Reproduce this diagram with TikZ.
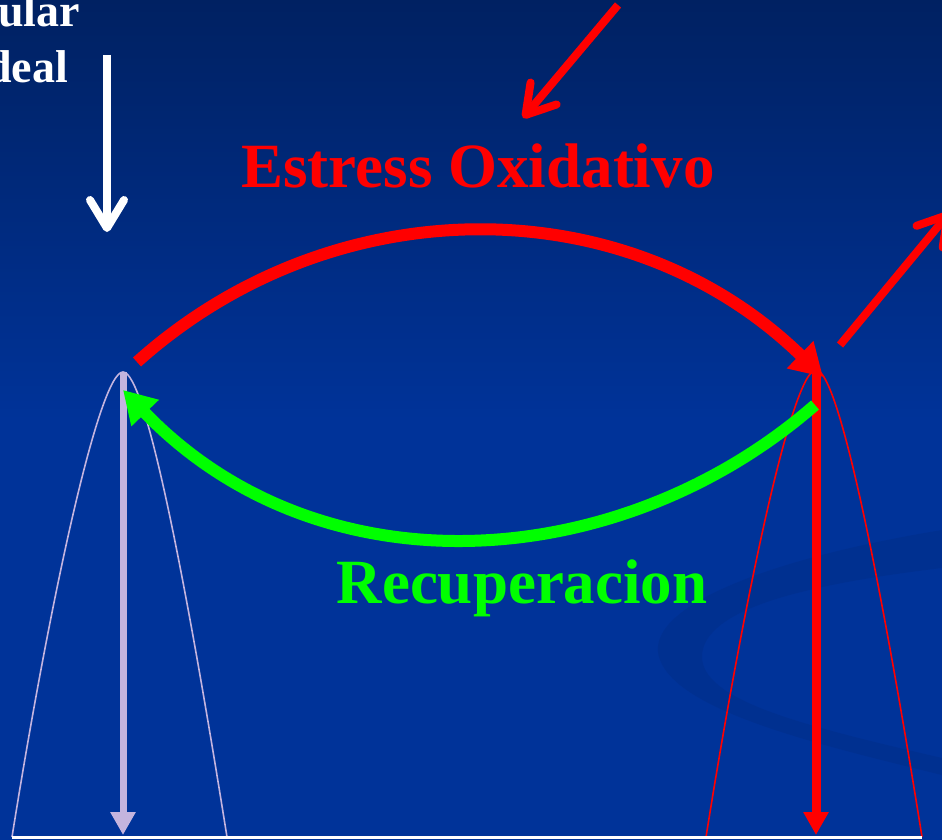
\documentclass[tikz,border=0pt]{standalone}
\usepackage{fontspec}
\setmainfont{Liberation Serif}
\usetikzlibrary{arrows.meta}

\definecolor{bgtop}{RGB}{0,33,98}
\definecolor{bgblue}{RGB}{0,51,153}
\definecolor{swoosh}{RGB}{0,44,132}
\definecolor{lavender}{RGB}{196,180,222}
\definecolor{redox}{RGB}{255,0,0}
\definecolor{recup}{RGB}{0,255,0}

\begin{document}
\begin{tikzpicture}[
  x=1pt, y=-1pt,
  title/.style={font=\fontsize{63}{70}\selectfont\bfseries, inner sep=0pt},
  side/.style={font=\fontsize{46}{52}\selectfont\bfseries, text=white, inner sep=0pt},
  barb/.style={line width=8pt, -{Straight Barb[length=28pt,width=34pt,round]}},
  curve/.style={line width=12pt, -{Triangle[length=32pt,width=36pt]}},
  bell/.style={line width=1.6pt},
  drop/.style={-{Triangle[length=23pt,width=24pt]}}
]

%% -- Fond -------------------------------------------------------------
\useasboundingbox (0,0) rectangle (942,840);
\clip (0,0) rectangle (942,840);
\fill[bgblue] (0,0) rectangle (942,840);
\shade[top color=bgtop, bottom color=bgblue] (0,0) rectangle (942,420);
\fill[swoosh, opacity=0.4]
  (942,530) .. controls (760,560) and (640,610) .. (660,660)
  .. controls (680,712) and (820,745) .. (942,775)
  -- (942,758) .. controls (800,725) and (700,700) .. (702,655)
  .. controls (705,610) and (800,585) .. (942,568) -- cycle;

%% -- Points ------------------------------------------------------------
\coordinate (peakL)  at (123,372);
\coordinate (peakR)  at (816,370);
\coordinate (footLL) at (12,837);
\coordinate (footLR) at (227,837);
\coordinate (footRL) at (706,837);
\coordinate (footRR) at (922,837);
\coordinate (groundL) at (123,835);
\coordinate (groundR) at (816,835);
\coordinate (idealTop) at (107,55);
\coordinate (idealTip) at (107,232);
\coordinate (oxTop) at (618,5);
\coordinate (oxTip) at (523,118);
\coordinate (outStart) at (840,345);
\coordinate (outTip) at (950,212);
\coordinate (redStart) at (137,362);
\coordinate (redEnd) at (823,377);
\coordinate (greenStart) at (815,405);
\coordinate (greenEnd) at (123,390);

%% -- Textes ------------------------------------------------------------
\node[side, anchor=base east] (idealA) at (80,27) {ular};
\node[side, anchor=base east] (idealB) at (68,83) {deal};
\node[title, text=redox, anchor=base] (estress) at (478,187) {Estress Oxidativo};
\node[title, text=recup, anchor=base] (recupera) at (522,603) {Recuperacion};

%% -- Courbes en cloche -------------------------------------------------
\draw[bell, lavender] (footLL) .. controls (52,587) and (100,372) .. (peakL)
  .. controls (146,372) and (187,587) .. (footLR);
\draw[bell, redox] (footRL) .. controls (746,587) and (793,370) .. (peakR)
  .. controls (839,370) and (882,587) .. (footRR);
\draw[white, line width=3pt] (footLL) -- (footRR);

%% -- Fleches verticales ------------------------------------------------
\draw[drop, lavender, line width=7pt] (peakL) -- (groundL);
\draw[drop, redox, line width=9pt] (peakR) -- (groundR);

%% -- Fleches droites ---------------------------------------------------
\draw[barb, white] (idealTop) -- (idealTip);
\draw[barb, redox] (oxTop) -- (oxTip);
\draw[barb, redox] (outStart) -- (outTip);

%% -- Arcs --------------------------------------------------------------
\draw[curve, redox] (redStart) .. controls (333,186) and (627,186) .. (redEnd);
\draw[curve, recup] (greenStart) .. controls (620,575) and (320,595) .. (greenEnd);

\end{tikzpicture}
\end{document}
